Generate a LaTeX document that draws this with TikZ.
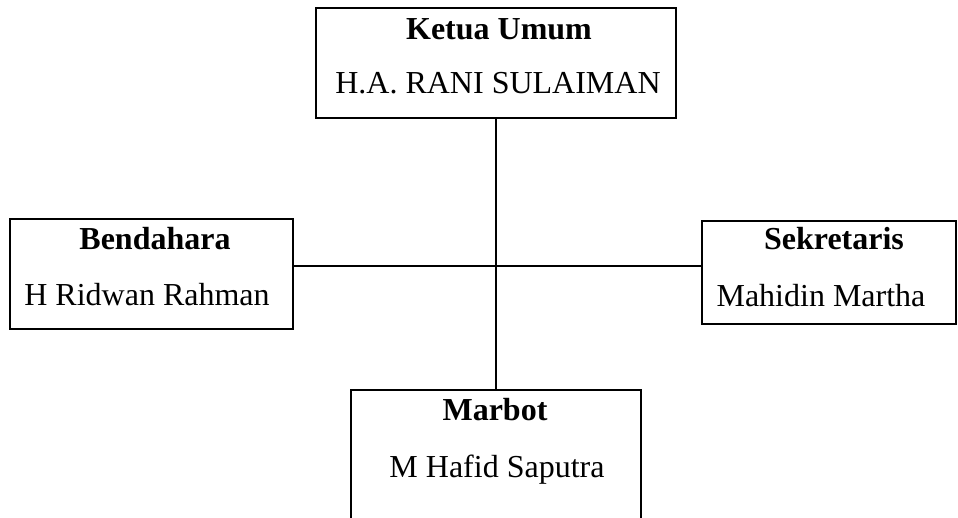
\documentclass[tikz,border=0pt]{standalone}
\usepackage{fontspec}
\setmainfont{Liberation Serif}
\begin{document}
\begin{tikzpicture}[x=1pt,y=-1pt,
  box/.style={draw=black, line width=1.8pt, rectangle, inner sep=0pt},
  txt/.style={anchor=base, inner sep=0pt, font=\fontsize{32}{38}\selectfont},
  ttl/.style={txt, font=\fontsize{32}{38}\selectfont\bfseries},
  conn/.style={draw=black, line width=1.8pt}]
\useasboundingbox (0,0) rectangle (958,517);
\clip (0,0) rectangle (958,517);
\node[box, minimum width=360pt, minimum height=110pt] (ketua) at (496,63) {};
\node[box, minimum width=283pt, minimum height=110pt] (bend) at (151.5,274) {};
\node[box, minimum width=254pt, minimum height=103pt] (sek) at (829,272.5) {};
\node[box, minimum width=290pt, minimum height=150pt] (marbot) at (496,465) {};
\coordinate (c) at (496,266);
\node[ttl] (t1) at (499,39) {Ketua Umum};
\node[txt] (n1) at (498,93) {H.A. RANI SULAIMAN};
\node[ttl] (t2) at (155,249) {Bendahara};
\node[txt] (n2) at (147,305) {H Ridwan Rahman};
\node[ttl] (t3) at (834,249) {Sekretaris};
\node[txt] (n3) at (821,306) {Mahidin Martha};
\node[ttl] (t4) at (495,420) {Marbot};
\node[txt] (n4) at (497,477) {M Hafid Saputra};
\draw[conn] (ketua.south) -- (marbot.north);
\draw[conn] (bend.east |- c) -- (sek.west |- c);
\end{tikzpicture}
\end{document}
